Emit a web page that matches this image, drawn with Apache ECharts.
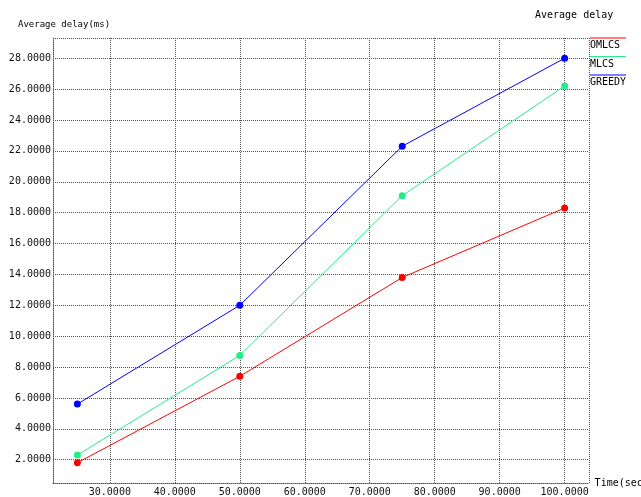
<!DOCTYPE html>
<html>
<head>
<meta charset="utf-8">
<style>
  html, body { margin: 0; padding: 0; background: #fff; }
  #chart { width: 641px; height: 497px; }
</style>
<script src="https://cdn.jsdelivr.net/npm/echarts@6/dist/echarts.min.js"></script>
</head>
<body>
<div id="chart"></div>
<script>
// values
var times = [25, 50, 75, 100];
var omlcs = [1.8, 7.4, 13.8, 18.3];
var mlcs = [2.3, 8.75, 19.1, 26.2];
var greedy = [5.6, 12.0, 22.3, 28.0];

var seriesNames = ['OMLCS', 'MLCS', 'GREEDY'];
var seriesData = [omlcs, mlcs, greedy];
var colors = ['#ff0000', '#22ee88', '#0000ff'];

var xLabelValues = [30, 40, 50, 60, 70, 80, 90, 100];
var yLabelValues = [2, 4, 6, 8, 10, 12, 14, 16, 18, 20, 22, 24, 26, 28];

// axis range: data range padded by 5% on each side
var xMin = 21.25, xMax = 103.75;
var yMin = 0.49, yMax = 29.31;

var mono = 'DejaVu Sans Mono';
var gridLine = { color: '#555', width: 1, type: [1, 1] };

var chart = echarts.init(document.getElementById('chart'));

var rich = { t: { fontFamily: mono, fontSize: 10, color: '#000', lineHeight: 12 } };
colors.forEach(function (c, i) {
  rich['l' + i] = { width: 36, height: 1, lineHeight: 3, backgroundColor: c };
});

var option = {
  animation: false,
  title: [
    {
      text: 'Average delay(ms)',
      left: 13, top: 15,
      textStyle: { fontFamily: mono, fontSize: 9, fontWeight: 'normal', color: '#000' }
    },
    {
      text: 'Average delay',
      left: 530, top: 5,
      textStyle: { fontFamily: mono, fontSize: 10, fontWeight: 'normal', color: '#000' }
    }
  ],
  legend: {
    orient: 'vertical',
    left: 585,
    top: 32,
    itemWidth: 0,
    itemHeight: 0,
    itemGap: 0,
    icon: 'rect',
    padding: 0,
    data: seriesNames,
    formatter: function (name) {
      return '{l' + seriesNames.indexOf(name) + '| }\n{t|' + name + '}';
    },
    textStyle: { rich: rich }
  },
  grid: { left: 53, right: 52, top: 38, bottom: 14, outerBoundsMode: 'none', containLabel: false },
  xAxis: {
    type: 'value',
    min: xMin,
    max: xMax,
    name: 'Time(sec)',
    nameLocation: 'end',
    nameGap: -1,
    nameTextStyle: { fontFamily: mono, fontSize: 10, color: '#000', align: 'left', verticalAlign: 'middle' },
    axisLine: { show: true, lineStyle: gridLine },
    axisTick: { show: false, customValues: [xMin].concat(xLabelValues, [xMax]) },
    axisLabel: {
      customValues: xLabelValues,
      margin: 4,
      fontFamily: mono, fontSize: 10, color: '#111',
      formatter: function (v) { return v.toFixed(4); }
    },
    splitLine: { show: true, lineStyle: gridLine }
  },
  yAxis: {
    type: 'value',
    min: yMin,
    max: yMax,
    axisLine: { show: true, lineStyle: gridLine },
    axisTick: { show: false, customValues: [yMin].concat(yLabelValues, [yMax]) },
    axisLabel: {
      customValues: yLabelValues,
      margin: 2,
      fontFamily: mono, fontSize: 10, color: '#111',
      formatter: function (v) { return v.toFixed(4); }
    },
    splitLine: { show: true, lineStyle: gridLine }
  },
  series: seriesNames.map(function (name, i) {
    return {
      name: name,
      type: 'line',
      symbol: 'circle',
      symbolSize: 7,
      color: colors[i],
      lineStyle: { width: 1, color: colors[i] },
      itemStyle: { color: colors[i] },
      data: times.map(function (t, j) { return [t, seriesData[i][j]]; })
    };
  })
};

chart.setOption(option);
</script>
</body>
</html>
